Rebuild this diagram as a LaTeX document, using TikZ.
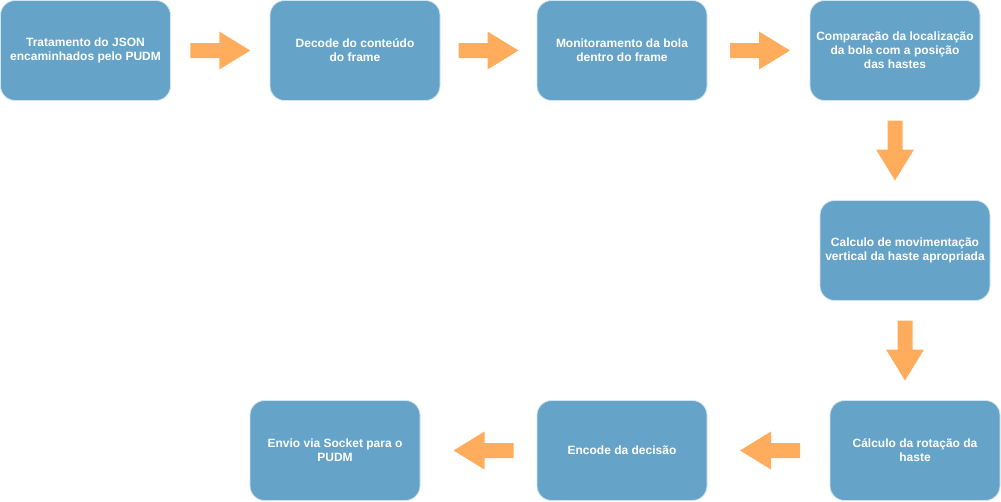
\documentclass[tikz,border=0pt]{standalone}
\usepackage{fontspec}
\setmainfont{Liberation Sans}
\usetikzlibrary{calc}
\definecolor{boxfill}{HTML}{65A4C8}
\definecolor{boxline}{HTML}{D2E5F2}
\definecolor{arrowfill}{HTML}{FFAD5C}
\tikzset{
  stepbox/.style={rectangle, rounded corners=11pt, fill=boxfill, draw=boxline, line width=0.6pt,
    minimum width=127.5pt, minimum height=75pt, inner sep=0pt, align=center,
    text=white, font=\fontsize{9}{10.5}\selectfont\bfseries},
  blockarrow/.pic={\fill[arrowfill] (-30,-7.5) -- (-1,-7.5) -- (-1,-19) -- (30,0) -- (-1,19) -- (-1,7.5) -- (-30,7.5) -- cycle;}
}
\begin{document}
\begin{tikzpicture}[x=0.75pt,y=-0.75pt]
\useasboundingbox (0,0) rectangle (1001,501);
\node[stepbox] (b1) at (85.5,50.5) {Tratamento do JSON\\encaminhados pelo PUDM};
\node[stepbox] (b2) at (355,50.5) {Decode do conteúdo\\do frame};
\node[stepbox] (b3) at (622,50.5) {Monitoramento da bola\\dentro do frame};
\node[stepbox] (b4) at (895,50.5) {Comparação da localização\\da bola com a posição\\das hastes};
\node[stepbox] (b5) at (905,250.5) {Calculo de movimentação\\vertical da haste apropriada};
\node[stepbox] (b6) at (915,450.5) {Cálculo da rotação da\\haste};
\node[stepbox] (b7) at (622,450.5) {Encode da decisão};
\node[stepbox] (b8) at (335,450.5) {Envio via Socket para o\\PUDM};
\pic at ($(b1.east)!0.5!(b2.west)$) {blockarrow};
\pic at ($(b2.east)!0.5!(b3.west)$) {blockarrow};
\pic at ($(b3.east)!0.5!(b4.west)+(1.5,0)$) {blockarrow};
\pic[rotate=-90] at ($(b4.south)!0.5!(b4.south|-b5.north)$) {blockarrow};
\pic[rotate=-90] at ($(b5.south)!0.5!(b5.south|-b6.north)$) {blockarrow};
\pic[rotate=180] at ($(b6.west)!0.5!(b7.east)+(1.5,0)$) {blockarrow};
\pic[rotate=180] at ($(b7.west)!0.5!(b8.east)+(5,0)$) {blockarrow};
\end{tikzpicture}
\end{document}
